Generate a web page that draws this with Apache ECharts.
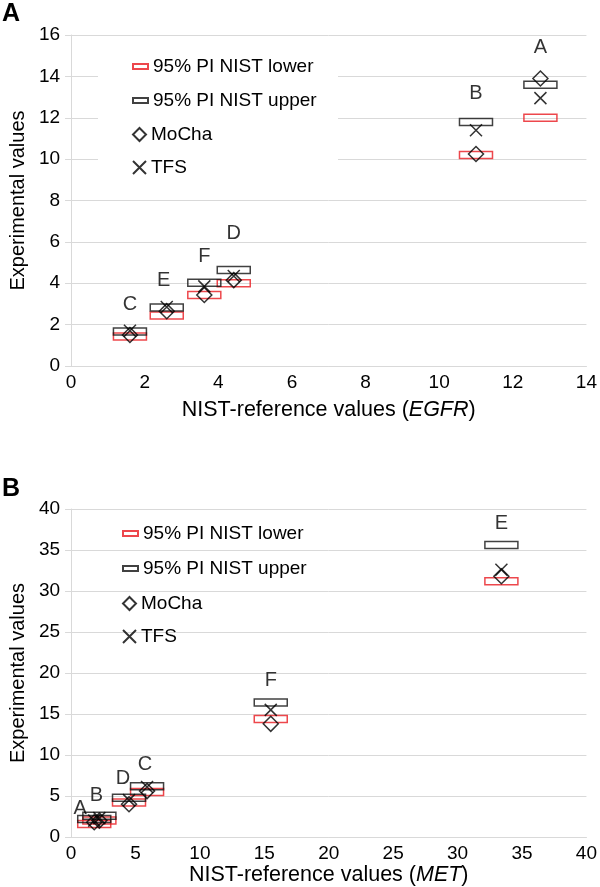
<!DOCTYPE html>
<html><head><meta charset="utf-8">
<script src="https://cdn.jsdelivr.net/npm/echarts@6/dist/echarts.min.js"></script>
<style>html,body{margin:0;padding:0;background:#fff}#c{width:600px;height:887px}</style>
</head><body><div id="c"></div>
<script>
// ---- Panel A (EGFR) ----
const catsA  = ['A', 'B', 'C', 'D', 'E', 'F'];
const nistA  = [12.75, 11.0, 1.6, 4.42, 2.6, 3.62];
const lowerA = [12.0, 10.2, 1.42, 4.0, 2.44, 3.43];
const upperA = [13.6, 11.8, 1.67, 4.64, 2.83, 4.03];
const mochaA = [13.9, 10.25, 1.5, 4.15, 2.65, 3.43];
const tfsA   = [12.95, 11.4, 1.7, 4.35, 2.85, 3.85];
const xTicksA = [0, 2, 4, 6, 8, 10, 12, 14];
const yTicksA = [0, 2, 4, 6, 8, 10, 12, 14, 16];

// ---- Panel B (MET) ----
const catsB  = ['A', 'B', 'C', 'D', 'E', 'F'];
const nistB  = [1.8, 2.2, 5.9, 4.5, 33.4, 15.5];
const lowerB = [1.6, 2.0, 5.5, 4.2, 31.2, 14.4];
const upperB = [2.2, 2.6, 6.2, 4.8, 35.6, 16.4];
const mochaB = [1.8, 2.0, 5.6, 4.0, 31.8, 13.8];
const tfsB   = [2.0, 2.3, 6.1, 4.5, 32.6, 15.5];
const xTicksB = [0, 5, 10, 15, 20, 25, 30, 35, 40];
const yTicksB = [0, 5, 10, 15, 20, 25, 30, 35, 40];

const seriesNames = ['95% PI NIST lower', '95% PI NIST upper', 'MoCha', 'TFS'];

// label placement (style): pixel offsets of the letter from the upper box centre
const labelOffA = [[0,-37],[0,-28],[0,-27],[0,-37],[-3,-27],[0,-26]];
const labelOffB = [[-14,-10],[-3,-20],[-2,-22],[-6,-19],[0,-22],[0,-22]];

const FONT = "'Liberation Sans', Arial, Helvetica, sans-serif";
const GRID_C = '#d9d9d9';
const RED = '#e8191f';
const XPATH = 'path://M0,0L10,10M10,0L0,10';
const BOXPATH = 'path://M0,0H33V7H0Z';

function pts(xs, ys, cats, offs) {
  return xs.map((x, i) => {
    const d = { name: cats[i], value: [x, ys[i]] };
    if (offs) d.label = { offset: offs[i] };
    return d;
  });
}

function panelSeries(idx, xs, lo, up, mo, tf, cats, offs) {
  const common = { type: 'scatter', xAxisIndex: idx, yAxisIndex: idx, emphasis: { disabled: true }, animation: false };
  return [
    Object.assign({}, common, { name: seriesNames[0], symbol: BOXPATH, symbolSize: 33, symbolKeepAspect: true,
      itemStyle: { color: 'rgba(255,255,255,0)', borderColor: RED, borderWidth: 1.5 },
      data: pts(xs, lo, cats) }),
    Object.assign({}, common, { name: seriesNames[1], symbol: BOXPATH, symbolSize: 33, symbolKeepAspect: true,
      itemStyle: { color: 'rgba(255,255,255,0)', borderColor: '#111', borderWidth: 1.5 },
      label: { show: true, position: 'inside', formatter: '{b}', fontSize: 20, color: '#000', fontFamily: FONT },
      data: pts(xs, up, cats, offs) }),
    Object.assign({}, common, { name: seriesNames[2], symbol: 'diamond', symbolSize: 15,
      itemStyle: { color: 'rgba(255,255,255,0)', borderColor: '#000', borderWidth: 1.5 },
      data: pts(xs, mo, cats) }),
    Object.assign({}, common, { name: seriesNames[3], symbol: XPATH, symbolSize: 12,
      itemStyle: { color: 'rgba(255,255,255,0)', borderColor: '#000', borderWidth: 1.5 },
      data: pts(xs, tf, cats) })
  ];
}

function legends(left, centers) {
  const icons = ['rect', 'rect', 'diamond', XPATH];
  const sizes = [[15, 5], [15, 5], [13, 13], [13, 13]];
  return seriesNames.map((n, i) => ({
    data: [{ name: n, icon: icons[i] }],
    left: left, top: centers[i] - 11, padding: 0, itemGap: 0,
    itemWidth: sizes[i][0], itemHeight: sizes[i][1], selectedMode: false,
    textStyle: { fontSize: 19, color: '#000', fontFamily: FONT }
  }));
}

function xAxis(idx, ticks, title) {
  return {
    type: 'value', gridIndex: idx, min: ticks[0], max: ticks[ticks.length - 1], interval: ticks[1] - ticks[0],
    axisLine: { show: true, lineStyle: { color: GRID_C, width: 1 } },
    axisTick: { show: false }, splitLine: { show: false },
    axisLabel: { fontSize: 19, color: '#000', fontFamily: FONT, margin: 7 },
    name: 'NIST-reference values ({i|' + title + '})', nameLocation: 'middle', nameGap: idx === 0 ? 33 : 27,
    nameTextStyle: { fontSize: 21.5, color: '#000', fontFamily: FONT,
      rich: { i: { fontStyle: 'italic', fontSize: 21.5, color: '#000', fontFamily: FONT } } }
  };
}
function yAxis(idx, ticks) {
  return {
    type: 'value', gridIndex: idx, min: ticks[0], max: ticks[ticks.length - 1], interval: ticks[1] - ticks[0],
    axisLine: { show: true, lineStyle: { color: GRID_C, width: 1 } },
    axisTick: { show: true, length: 6, lineStyle: { color: GRID_C } },
    splitLine: { show: true, lineStyle: { color: GRID_C, width: 1 } },
    axisLabel: { fontSize: 19, color: '#000', fontFamily: FONT, margin: 11 },
    name: 'Experimental values', nameLocation: 'middle', nameGap: 39,
    nameTextStyle: { fontSize: 20, color: '#000', fontFamily: FONT }
  };
}

const chart = echarts.init(document.getElementById('c'), null, { renderer: 'canvas' });
chart.setOption({
  backgroundColor: '#fff',
  animation: false,
  grid: [
    { left: 56, right: 3, top: 35, height: 331 },
    { left: 56, right: 3, top: 509, height: 330 }
  ],
  xAxis: [xAxis(0, xTicksA, 'EGFR'), xAxis(1, xTicksB, 'MET')],
  yAxis: [yAxis(0, yTicksA), yAxis(1, yTicksB)],
  legend: legends(132, [68, 102, 136, 169]).concat(legends(122, [535, 570, 605, 638])),
  graphic: [
    { type: 'rect', z: 1, shape: { x: 98, y: 45, width: 240, height: 142 }, style: { fill: '#fff' } },
    { type: 'text', left: 2, top: 2, style: { text: 'A', fontSize: 25, fontWeight: 'bold', fill: '#000', fontFamily: FONT } },
    { type: 'text', left: 2, top: 477, style: { text: 'B', fontSize: 25, fontWeight: 'bold', fill: '#000', fontFamily: FONT } }
  ],
  series: panelSeries(0, nistA, lowerA, upperA, mochaA, tfsA, catsA, labelOffA)
    .concat(panelSeries(1, nistB, lowerB, upperB, mochaB, tfsB, catsB, labelOffB))
});
</script></body></html>
